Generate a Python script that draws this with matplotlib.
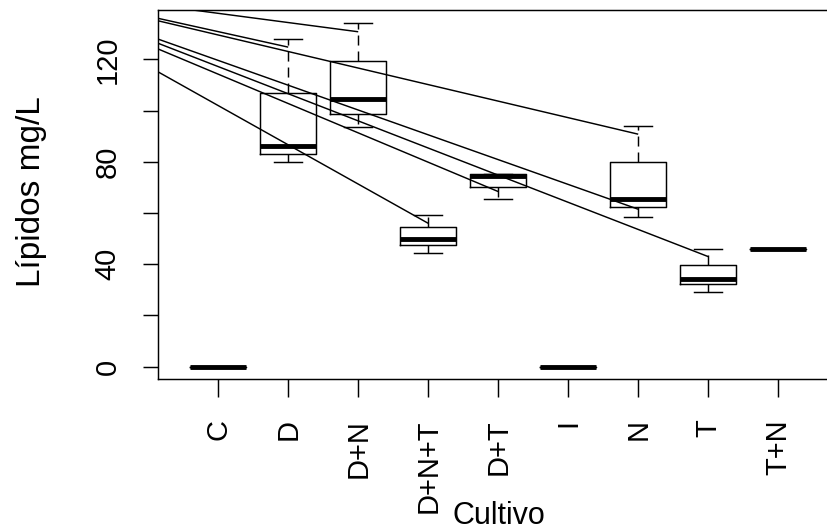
import matplotlib
matplotlib.use("Agg")
import matplotlib.pyplot as plt

W, H, DPI = 827, 532, 100

categories = ["C", "D", "D+N", "D+N+T", "D+T", "I", "N", "T", "T+N"]
whisker_low = [0, 79.8, 93.5, 44.5, 65.6, 0, 58.4, 29.1, 46.0]
quartile_1 = [0, 83.1, 98.6, 47.5, 70.0, 0, 62.3, 32.2, 46.0]
medians = [0, 86.2, 104.7, 49.8, 74.5, 0, 65.4, 34.3, 46.0]
quartile_3 = [0, 107.0, 119.3, 54.4, 75.4, 0, 80.0, 39.6, 46.0]
whisker_high = [0, 127.9, 134.1, 59.3, 75.4, 0, 94.0, 46.0, 46.0]

# straight segments: value at x = 0 running down to a group's value
seg_start_y = [141.6, 136.9, 136.0, 129.3, 127.8, 125.7, 117.3]
seg_end_cat = ["D+N", "D", "N", "N", "T", "D+T", "D+N+T"]
seg_end_y = [130.8, 124.8, 90.8, 61.5, 43.0, 68.4, 56.0]

y_ticks = [0, 20, 40, 60, 80, 100, 120]
y_ticklabels = ["0", "", "40", "", "80", "", "120"]

plt.rcParams["font.family"] = ["Liberation Sans", "DejaVu Sans"]
plt.rcParams["lines.scale_dashes"] = False

fig = plt.figure(figsize=(W / DPI, H / DPI), dpi=DPI)
fig.patch.set_facecolor("white")

# plot region in pixels (right edge runs past the image border)
left_px, right_px, top_px, bottom_px = 158, 838.4, 10, 379
ax = fig.add_axes([left_px / W, 1 - bottom_px / H,
                   (right_px - left_px) / W, (bottom_px - top_px) / H])

lw = 1.05
stats = []
for name, lo, q1, med, q3, hi in zip(categories, whisker_low, quartile_1,
                                     medians, quartile_3, whisker_high):
    stats.append(dict(label=name, whislo=lo, q1=q1, med=med, q3=q3,
                      whishi=hi, fliers=[]))

positions = list(range(1, len(categories) + 1))
ax.bxp(stats, positions=positions, widths=0.8, capwidths=0.4,
       showfliers=False, manage_ticks=False,
       boxprops=dict(color="black", linewidth=lw),
       whiskerprops=dict(color="black", linewidth=lw,
                         linestyle=(0, (7.2, 4.3))),
       capprops=dict(color="black", linewidth=lw),
       medianprops=dict(color="black", linewidth=3.5,
                        solid_capstyle="butt"))

cat_pos = {c: i + 1 for i, c in enumerate(categories)}
for y0, cat, y1 in zip(seg_start_y, seg_end_cat, seg_end_y):
    ax.plot([0, cat_pos[cat]], [y0, y1], color="black", linewidth=lw,
            solid_capstyle="butt")

ax.set_xlim(0.14, 9.86)
ax.set_ylim(-4.8, 139.3)

ax.spines["right"].set_visible(False)
for s in ("left", "top", "bottom"):
    ax.spines[s].set_linewidth(lw)

ax.set_xticks(positions)
ax.set_xticklabels(categories, rotation=90, fontsize=21)
ax.set_yticks(y_ticks)
ax.set_yticklabels(y_ticklabels, rotation=90, va="center", fontsize=21)
ax.tick_params(axis="x", length=12.6, width=lw, pad=16.5)
ax.tick_params(axis="y", length=10.8, width=lw, pad=15.5)

fig.text(32 / W, 1 - 192 / H, "Lípidos mg/L", rotation=90,
         ha="center", va="center", fontsize=24)
fig.text(499 / W, 1 - 524 / H, "Cultivo", ha="center", va="baseline",
         fontsize=22)

fig.savefig("out.png", dpi=DPI, facecolor="white")
